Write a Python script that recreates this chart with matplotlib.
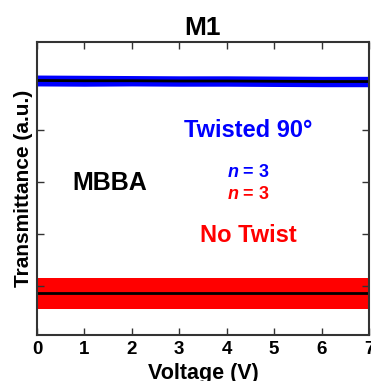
import matplotlib
matplotlib.use("Agg")
import matplotlib.pyplot as plt
import numpy as np

voltage = [0, 1, 2, 3, 4, 5, 6, 7]
twisted_mean = [0.990, 0.989, 0.989, 0.988, 0.988, 0.987, 0.986, 0.986]
twisted_err = [0.021, 0.021, 0.020, 0.020, 0.020, 0.020, 0.020, 0.020]
notwist_mean = [0.172, 0.172, 0.172, 0.172, 0.172, 0.172, 0.172, 0.172]
notwist_err = [0.059, 0.059, 0.059, 0.059, 0.059, 0.059, 0.059, 0.059]
xticks = [0, 1, 2, 3, 4, 5, 6, 7]
yticks = [0.2, 0.4, 0.6, 0.8]

plt.rcParams['font.family'] = ['Liberation Sans', 'DejaVu Sans']
plt.rcParams['font.weight'] = 'bold'
plt.rcParams['mathtext.fontset'] = 'custom'
plt.rcParams['mathtext.it'] = 'Liberation Sans:bold:italic'
plt.rcParams['mathtext.rm'] = 'Liberation Sans:bold'

fig = plt.figure(figsize=(3.71, 3.81), dpi=100)
ax = fig.add_axes([0.0997, 0.1207, 0.8949, 0.7691])

v = np.array(voltage)
tm = np.array(twisted_mean); te = np.array(twisted_err)
nm = np.array(notwist_mean); ne = np.array(notwist_err)

ax.fill_between(v, tm - te, tm + te, color='#0000ff', lw=0)
ax.fill_between(v, nm - ne, nm + ne, color='#ff0000', lw=0)
ax.plot(v, tm, color='black', lw=2)
ax.plot(v, nm, color='black', lw=2)

ax.set_xlim(0, 7)
ax.set_ylim(0.0115, 1.138)
ax.set_xticks(xticks)
ax.set_xticklabels([str(t) for t in xticks], fontsize=13.5, fontweight='bold')
ax.set_yticks(yticks)
ax.set_yticklabels([])
ax.tick_params(direction='in', length=5, width=1, top=True, right=True, colors='#333333', labelcolor='black', pad=4)
for s in ax.spines.values():
    s.set_linewidth(1.5)
    s.set_color('#333333')

ax.set_title('M1', fontsize=19, fontweight='bold', pad=5)
ax.set_xlabel('Voltage (V)', fontsize=15.5, fontweight='bold', labelpad=4)
ax.set_ylabel('Transmittance (a.u.)', fontsize=15, fontweight='bold', labelpad=-1)

ax.text(0.636, 0.697, 'Twisted 90°', transform=ax.transAxes, color='#0000ff', fontsize=17,
        fontweight='bold', ha='center', va='center')
ax.text(0.636, 0.554, '$n$ = 3', transform=ax.transAxes, color='#0000ff', fontsize=13,
        fontweight='bold', ha='center', va='center')
ax.text(0.636, 0.479, '$n$ = 3', transform=ax.transAxes, color='#ff0000', fontsize=13,
        fontweight='bold', ha='center', va='center')
ax.text(0.636, 0.341, 'No Twist', transform=ax.transAxes, color='#ff0000', fontsize=17,
        fontweight='bold', ha='center', va='center')
ax.text(0.220, 0.518, 'MBBA', transform=ax.transAxes, color='black', fontsize=18,
        fontweight='bold', ha='center', va='center')

fig.savefig('out.png', dpi=100)
